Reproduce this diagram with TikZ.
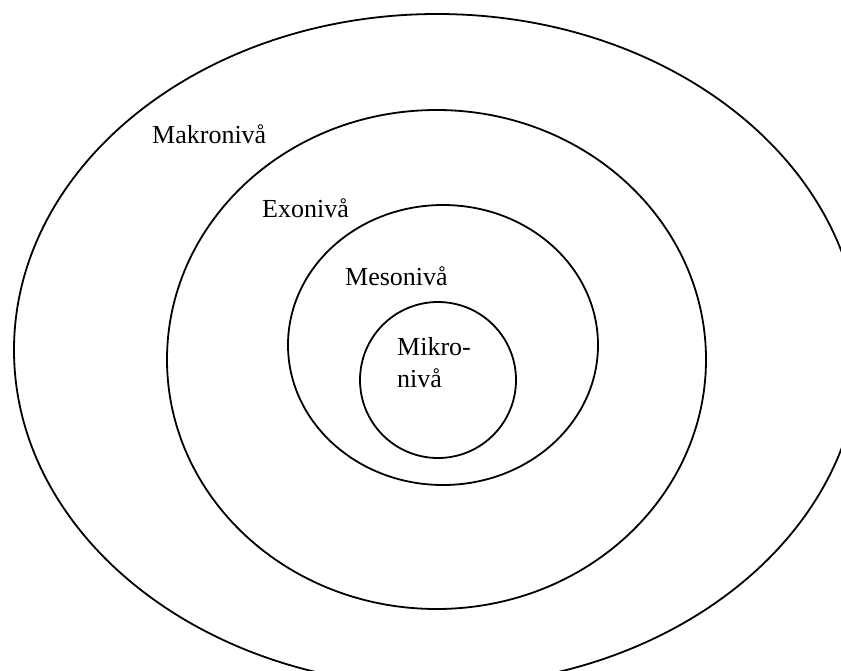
\documentclass[tikz,border=0pt]{standalone}
\usepackage{fontspec}
\setmainfont{Liberation Serif}
\usepackage{tikz}

\begin{document}
\begin{tikzpicture}[x=1pt,y=-1pt,ring/.style={draw,line width=1.8pt},
lbl/.style={font=\fontsize{26}{32}\selectfont,inner sep=0pt,anchor=base west}]
\useasboundingbox (0,0) rectangle (841,670);
\clip (0,0) rectangle (841,670);
\draw[ring] (437,350) ellipse [x radius=423pt,y radius=336pt];
\draw[ring] (436.5,359.5) ellipse [x radius=269.5pt,y radius=249.5pt];
\draw[ring] (443,345) ellipse [x radius=155pt,y radius=140pt];
\draw[ring] (438,380) circle [radius=78pt];
\node[lbl] (makro) at (152,143) {Makronivå};
\node[lbl] (exo) at (262,217) {Exonivå};
\node[lbl] (meso) at (345,285) {Mesonivå};
\node[lbl,anchor=north west,align=left] (mikro) at (397,337) {Mikro-\\nivå};
\end{tikzpicture}
\end{document}
